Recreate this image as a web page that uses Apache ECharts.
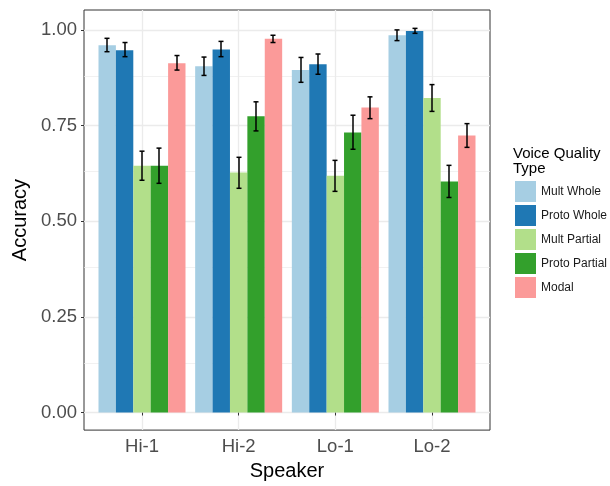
<!DOCTYPE html>
<html>
<head>
<meta charset="utf-8">
<script src="https://cdn.jsdelivr.net/npm/echarts@6/dist/echarts.min.js"></script>
<style>html,body{margin:0;padding:0;background:#fff}#c{width:610px;height:486px}</style>
</head>
<body>
<div id="c"></div>
<script>
const categories = ['Hi-1', 'Hi-2', 'Lo-1', 'Lo-2'];
const seriesNames = ['Mult Whole', 'Proto Whole', 'Mult Partial', 'Proto Partial', 'Modal'];
const colors = ['#A6CEE3', '#1F78B4', '#B2DF8A', '#33A02C', '#FB9A99'];

const multWhole = [0.960, 0.905, 0.895, 0.986];
const protoWhole = [0.947, 0.949, 0.910, 0.997];
const multPartial = [0.645, 0.627, 0.619, 0.822];
const protoPartial = [0.645, 0.774, 0.732, 0.604];
const modal = [0.913, 0.977, 0.797, 0.724];

const multWholeLo = [0.943, 0.881, 0.863, 0.972];
const multWholeHi = [0.978, 0.929, 0.928, 1.000];
const protoWholeLo = [0.930, 0.930, 0.884, 0.991];
const protoWholeHi = [0.967, 0.970, 0.937, 1.004];
const multPartialLo = [0.607, 0.586, 0.578, 0.787];
const multPartialHi = [0.683, 0.667, 0.659, 0.857];
const protoPartialLo = [0.599, 0.736, 0.688, 0.562];
const protoPartialHi = [0.691, 0.812, 0.777, 0.646];
const modalLo = [0.895, 0.967, 0.768, 0.693];
const modalHi = [0.933, 0.986, 0.825, 0.755];

const yTicks = [0, 0.25, 0.5, 0.75, 1];
const yMinorTicks = [0.125, 0.375, 0.625, 0.875];

const values = [multWhole, protoWhole, multPartial, protoPartial, modal];
const lows = [multWholeLo, protoWholeLo, multPartialLo, protoPartialLo, modalLo];
const highs = [multWholeHi, protoWholeHi, multPartialHi, protoPartialHi, modalHi];

const dodge = 0.9;
const nSeries = seriesNames.length;
const barW = dodge / nSeries;
const xPos = categories.map((c, i) => i + 1);

function makeSeries(si) {
  const data = categories.map((c, ci) => [xPos[ci], values[si][ci], lows[si][ci], highs[si][ci]]);
  return {
    type: 'custom',
    name: seriesNames[si],
    itemStyle: { color: colors[si] },
    z: 10,
    animation: false,
    data: data,
    encode: { x: 0, y: [1, 2, 3] },
    renderItem: function (params, api) {
      const cx = api.value(0) + (si - (nSeries - 1) / 2) * barW;
      const p0 = api.coord([cx - barW / 2, api.value(1)]);
      const p1 = api.coord([cx + barW / 2, 0]);
      const pLo = api.coord([cx, api.value(2)]);
      const pHi = api.coord([cx, api.value(3)]);
      const capHalf = 2.5;
      const ex = Math.round(pLo[0]);
      const es = { stroke: '#000', lineWidth: 1.5 };
      return {
        type: 'group',
        children: [
          { type: 'rect', shape: { x: p0[0], y: p0[1], width: p1[0] - p0[0], height: p1[1] - p0[1] }, style: { fill: colors[si] } },
          { type: 'line', shape: { x1: ex, y1: pLo[1], x2: ex, y2: pHi[1] }, style: es },
          { type: 'line', shape: { x1: ex - capHalf, y1: pLo[1], x2: ex + capHalf, y2: pLo[1] }, style: es },
          { type: 'line', shape: { x1: ex - capHalf, y1: pHi[1], x2: ex + capHalf, y2: pHi[1] }, style: es }
        ]
      };
    }
  };
}

const gridColor = '#EBEBEB';
const gridLines = []
  .concat(yMinorTicks.map(v => ({ yAxis: v, lineStyle: { color: gridColor, width: 0.7, type: 'solid' } })))
  .concat(yTicks.map(v => ({ yAxis: v, lineStyle: { color: gridColor, width: 1.3, type: 'solid' } })))
  .concat(xPos.map(v => ({ xAxis: v, lineStyle: { color: gridColor, width: 1.3, type: 'solid' } })));

const font = '"Liberation Sans", Arial, sans-serif';

const option = {
  animation: false,
  backgroundColor: '#fff',
  title: {
    text: 'Voice Quality\nType',
    left: 513, top: 146, padding: 0,
    textStyle: { fontFamily: font, fontSize: 15, fontWeight: 'normal', color: '#000', lineHeight: 15 }
  },
  legend: {
    data: seriesNames,
    orient: 'vertical',
    left: 515, top: 181, padding: 0,
    itemWidth: 21, itemHeight: 21, itemGap: 3,
    icon: 'rect',
    textStyle: { fontFamily: font, fontSize: 12, color: '#1a1a1a', padding: [0, 0, 0, 0] }
  },
  grid: {
    left: 84, top: 10, width: 406, height: 424,
    show: true, borderColor: '#333', borderWidth: 1, backgroundColor: 'transparent'
  },
  xAxis: {
    type: 'value', min: 0.4, max: 4.6,
    name: 'Speaker', nameLocation: 'middle', nameGap: 30,
    nameTextStyle: { fontFamily: font, fontSize: 20, color: '#000' },
    axisLine: { show: false },
    axisTick: { show: true, length: 3, customValues: xPos, lineStyle: { color: '#333' } },
    axisLabel: { customValues: xPos, margin: 7, fontFamily: font, fontSize: 18.5, color: '#4D4D4D',
      formatter: v => categories[Math.round(v) - 1] },
    splitLine: { show: false }
  },
  yAxis: {
    type: 'value', min: -0.046, max: 1.052,
    name: 'Accuracy', nameLocation: 'middle', nameGap: 52, nameRotate: 90,
    nameTextStyle: { fontFamily: font, fontSize: 20, color: '#000' },
    axisLine: { show: false },
    axisTick: { show: true, length: 3, customValues: yTicks, lineStyle: { color: '#333' } },
    axisLabel: { customValues: yTicks, margin: 7, fontFamily: font, fontSize: 18.5, color: '#4D4D4D',
      formatter: v => v.toFixed(2) },
    splitLine: { show: false }
  },
  series: [
    {
      type: 'line', name: 'grid', data: [], z: 0, silent: true,
      markLine: { z: 0, symbol: ['none', 'none'], silent: true, animation: false, label: { show: false }, data: gridLines }
    }
  ].concat(seriesNames.map((n, i) => makeSeries(i)))
};

const chart = echarts.init(document.getElementById('c'), null, { renderer: 'canvas' });
chart.setOption(option);
</script>
</body>
</html>
